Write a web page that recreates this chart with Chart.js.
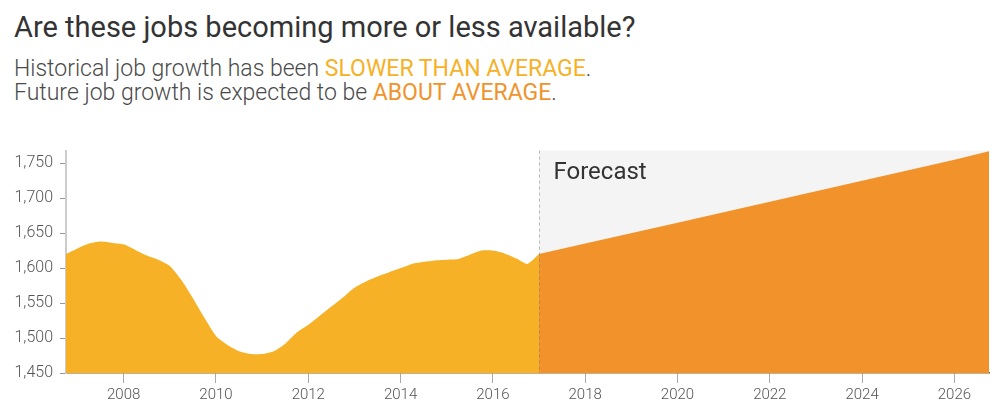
<!DOCTYPE html>
<html>
<head>
<meta charset="utf-8">
<script src="https://cdn.jsdelivr.net/npm/chart.js@4/dist/chart.umd.min.js"></script>
<style>
  html, body { margin: 0; padding: 0; background: #fff; }
  body { width: 1001px; height: 405px; position: relative; overflow: hidden; font-family: Roboto, "Noto Sans", sans-serif; }
  #title { position: absolute; left: 14px; top: 13px; font-size: 29px; line-height: 29px; color: #333; white-space: nowrap; }
  #sub { position: absolute; left: 14px; top: 57px; font-size: 23px; line-height: 24.4px; color: #4a4a4a; font-weight: 300; white-space: nowrap; }
  #sub .slow { color: #f6b126; font-weight: 400; }
  #sub .avg { color: #f1932b; font-weight: 400; }
  #wrap { position: absolute; left: 0; top: 134px; width: 1001px; height: 271px; }
</style>
</head>
<body>
<div id="title">Are these jobs becoming more or less available?</div>
<div id="sub">Historical job growth has been <span class="slow">SLOWER THAN AVERAGE</span>.<br>Future job growth is expected to be <span class="avg">ABOUT AVERAGE</span>.</div>
<div id="wrap"><canvas id="jobChart"></canvas></div>
<script>
document.addEventListener('DOMContentLoaded', () => {
    // 過去データ（四半期ごと、千人単位）
    const histYears = [
        2006.75, 2007, 2007.25, 2007.5, 2007.75, 2008, 2008.25, 2008.5, 2008.75,
        2009, 2009.25, 2009.5, 2009.75, 2010, 2010.25, 2010.5, 2010.75,
        2011, 2011.25, 2011.5, 2011.75, 2012, 2012.25, 2012.5, 2012.75,
        2013, 2013.25, 2013.5, 2013.75, 2014, 2014.25, 2014.5, 2014.75,
        2015, 2015.25, 2015.5, 2015.75, 2016, 2016.25, 2016.5, 2016.75, 2017
    ];
    const histValues = [
        1620, 1628, 1635, 1638, 1636, 1634, 1626, 1618, 1612,
        1603, 1583, 1557, 1529, 1503, 1490, 1481, 1477,
        1477, 1481, 1492, 1508, 1519, 1532, 1545, 1558,
        1572, 1581, 1588, 1594, 1600, 1606, 1609, 1611,
        1612, 1613, 1619, 1625, 1625, 1621, 1614, 1606, 1620
    ];

    // 予測データ
    const forecastYears = [2017, 2018, 2020, 2022, 2024, 2026, 2026.75];
    const forecastValues = [1620, 1635, 1665, 1695, 1725, 1755, 1767];

    const xTickYears = [2008, 2010, 2012, 2014, 2016, 2018, 2020, 2022, 2024, 2026];
    const yTickValues = [1450, 1500, 1550, 1600, 1650, 1700, 1750];
    const forecastStart = 2017;

    const toPoints = (xs, ys) => xs.map((x, i) => ({ x: x, y: ys[i] }));

    // 予測エリアの背景と破線
    const forecastPlugin = {
        id: 'forecastArea',
        beforeDatasetsDraw(chart) {
            const { ctx, chartArea, scales } = chart;
            const fx = scales.x.getPixelForValue(forecastStart);
            ctx.save();
            ctx.fillStyle = '#f4f4f4';
            ctx.fillRect(fx, chartArea.top, chartArea.right - fx, chartArea.bottom - chartArea.top);
            ctx.restore();
        },
        afterDatasetsDraw(chart) {
            const { ctx, chartArea, scales } = chart;
            const fx = Math.round(scales.x.getPixelForValue(forecastStart)) + 0.5;
            ctx.save();
            ctx.strokeStyle = 'rgba(110,110,110,0.45)';
            ctx.lineWidth = 1;
            ctx.setLineDash([3, 3]);
            ctx.beginPath();
            ctx.moveTo(fx, chartArea.top);
            ctx.lineTo(fx, chartArea.bottom);
            ctx.stroke();
            ctx.setLineDash([]);
            ctx.fillStyle = '#333';
            ctx.font = '24px Roboto, "Noto Sans", sans-serif';
            ctx.textBaseline = 'alphabetic';
            ctx.fillText('Forecast', fx + 14, chartArea.top + 28);
            ctx.restore();
        }
    };

    const ctx = document.getElementById('jobChart').getContext('2d');
    new Chart(ctx, {
        type: 'line',
        data: {
            datasets: [
                {
                    data: toPoints(histYears, histValues),
                    backgroundColor: '#f6b126',
                    borderWidth: 0,
                    pointRadius: 0,
                    fill: 'start',
                    tension: 0.2
                },
                {
                    data: toPoints(forecastYears, forecastValues),
                    backgroundColor: '#f1932a',
                    borderWidth: 0,
                    pointRadius: 0,
                    fill: 'start',
                    tension: 0
                }
            ]
        },
        options: {
            responsive: true,
            maintainAspectRatio: false,
            animation: false,
            layout: { padding: { top: 11, right: 12, left: 0, bottom: 0 } },
            plugins: { legend: { display: false }, tooltip: { enabled: false } },
            scales: {
                x: {
                    type: 'linear',
                    min: 2006.75,
                    max: 2026.75,
                    z: 1,
                    afterFit: s => { s.height = 32; },
                    afterBuildTicks: s => { s.ticks = xTickYears.map(v => ({ value: v })); },
                    grid: { drawOnChartArea: false, drawTicks: true, tickLength: 10, color: '#aaa' },
                    border: { color: '#8c6521', width: 1.5 },
                    ticks: {
                        color: '#555',
                        padding: 3,
                        maxRotation: 0,
                        font: { family: 'Roboto', size: 15, weight: 300 },
                        callback: v => String(v)
                    }
                },
                y: {
                    min: 1450,
                    max: 1768,
                    afterFit: s => { s.width = 66; },
                    afterBuildTicks: s => { s.ticks = yTickValues.map(v => ({ value: v })); },
                    grid: { drawOnChartArea: false, drawTicks: true, tickLength: 6, color: '#999' },
                    border: { color: '#ccc', width: 2 },
                    ticks: {
                        color: '#555',
                        padding: 7,
                        font: { family: 'Roboto', size: 16, weight: 300 },
                        callback: v => v.toLocaleString('en-US')
                    }
                }
            }
        },
        plugins: [forecastPlugin]
    });
});
</script>
</body>
</html>
